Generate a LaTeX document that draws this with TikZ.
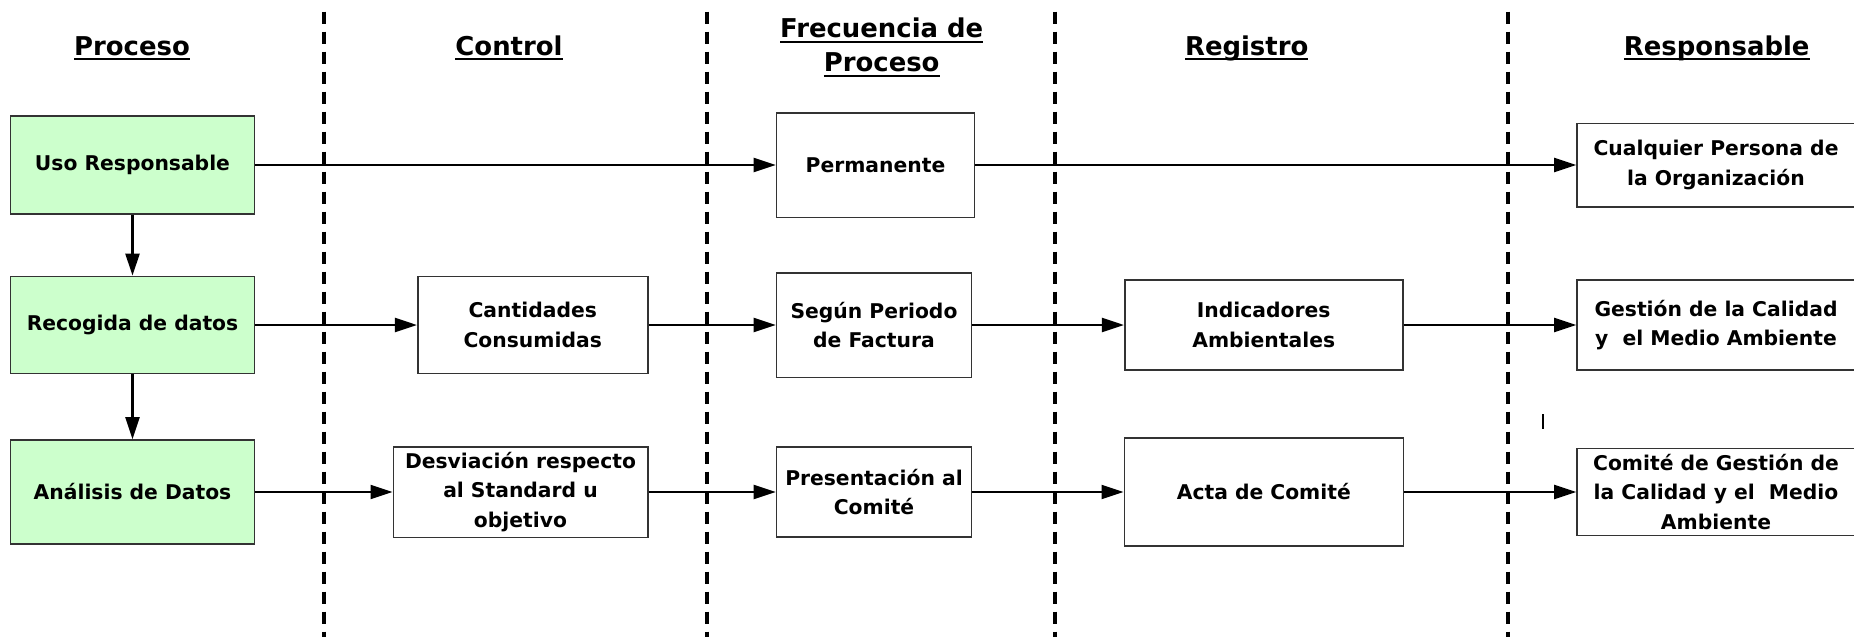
\documentclass[tikz,border=0pt]{standalone}
\usepackage{fontspec}
\setmainfont{DejaVu Sans}
\usetikzlibrary{arrows.meta}
\definecolor{verdeclaro}{HTML}{CCFFCC}
\tikzstyle{caja}=[rectangle, draw=black!80, line width=0.8pt, align=center, inner sep=2pt,
    font=\fontsize{10.15}{14.75}\selectfont\bfseries]
\tikzstyle{proceso}=[caja, fill=verdeclaro]
\tikzstyle{titulo}=[anchor=base, align=center, inner sep=0pt,
    font=\fontsize{12.95}{17.2}\selectfont\bfseries]
\tikzstyle{division}=[line width=1.6pt, dash pattern=on 6.15pt off 3.85pt]
\newcommand{\caja}{\node[caja]}
\newcommand{\subr}[1]{\setbox0\hbox{#1}\rlap{\rule[-2.65pt]{\wd0}{1pt}}\box0}

\begin{document}
\begin{tikzpicture}[x=0.5pt, y=-0.5pt
    ,every edge/.style={
        draw, line width=1.1pt,
        -{Triangle[length=11pt, width=7pt]} }
]
\useasboundingbox (0,0) rectangle (1854,637);
% columnas
\foreach \x in {324,707,1055,1508}
    \draw[division] (\x,11.7) -- (\x,637);
\node[titulo] (tproc) at (132,55)    {\subr{Proceso}};
\node[titulo] (tcont) at (509,55)    {\subr{Control}};
\node[titulo] (tfrec) at (881.7,71.7) {\subr{Frecuencia de}\\\subr{Proceso}};
\node[titulo] (treg)  at (1246.7,55) {\subr{Registro}};
\node[titulo] (tresp) at (1716.7,55) {\subr{Responsable}};
% proceso
\node[proceso, minimum width=122pt, minimum height=48.8pt] (uso)   at (132.5,165) {Uso Responsable};
\node[proceso, minimum width=122pt, minimum height=48.6pt] (recog) at (132.5,325) {Recogida de datos};
\node[proceso, minimum width=122pt, minimum height=52pt]   (anal)  at (132.5,492) {Análisis de Datos};
% control
\caja[minimum width=115pt, minimum height=48.6pt]   (cant) at (532.7,325) {Cantidades\\Consumidas};
\caja[minimum width=127.2pt, minimum height=45.3pt] (desv) at (520.5,492) {Desviación respecto\\al Standard u\\objetivo};
% frecuencia
\caja[minimum width=99pt, minimum height=52.3pt]   (perm)  at (875.5,165) {Permanente};
\caja[minimum width=97.5pt, minimum height=52.3pt] (segun) at (874,325)   {Según Periodo\\de Factura};
\caja[minimum width=97.5pt, minimum height=45pt]   (pres)  at (874,492)   {Presentación al\\Comité};
% registro
\caja[minimum width=139pt, minimum height=45pt]     (indic) at (1263.7,325) {Indicadores\\Ambientales};
\caja[minimum width=139.5pt, minimum height=53.8pt] (acta)  at (1263.8,492) {Acta de Comité};
% responsable
\caja[minimum width=139pt, minimum height=41.7pt] (cualq)  at (1716,165) {Cualquier Persona de\\la Organización};
\caja[minimum width=139pt, minimum height=44.8pt] (gest)   at (1716,325) {Gestión de la Calidad\\y\ \ el Medio Ambiente};
\caja[minimum width=139pt, minimum height=43.4pt] (comite) at (1716,492) {Comité de Gestión de\\la Calidad y el\ \ Medio\\Ambiente};
\draw[line width=0.8pt] (1542.7,414) -- (1542.7,429.3);
\path
(uso)   edge (perm)
        edge (recog)
(perm)  edge (cualq)
(recog) edge (cant)
        edge (anal)
(cant)  edge (segun)
(segun) edge (indic)
(indic) edge (gest)
(anal)  edge (desv)
(desv)  edge (pres)
(pres)  edge (acta)
(acta)  edge (comite)
;
\end{tikzpicture}
\end{document}
